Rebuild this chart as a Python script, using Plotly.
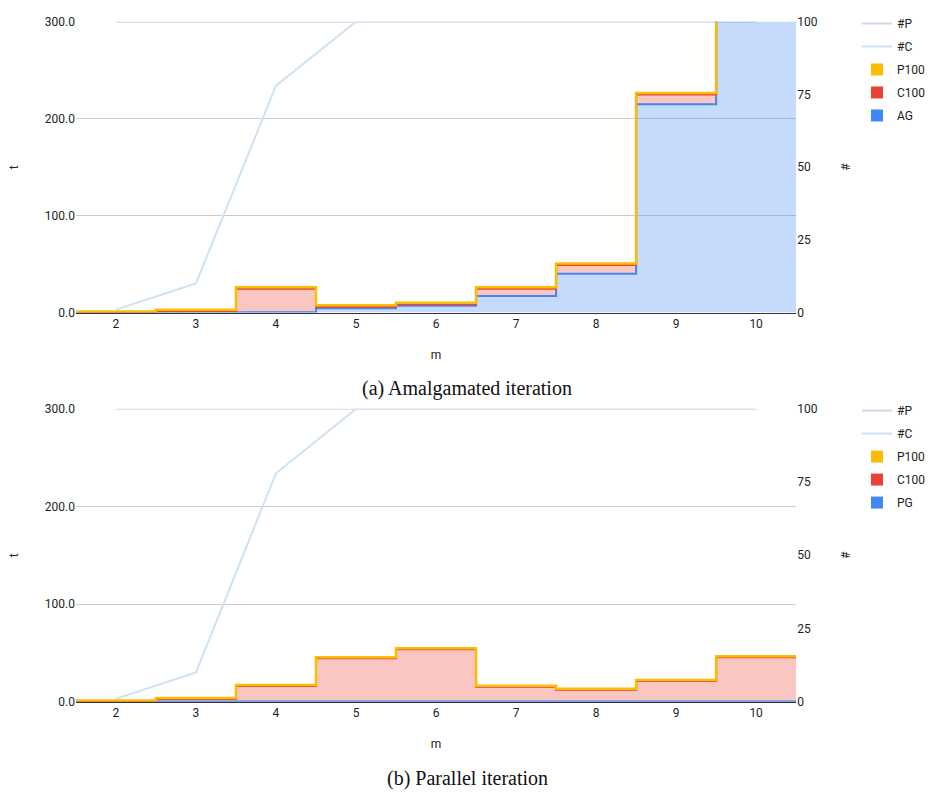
import plotly.graph_objects as go

# ---------------- data ----------------
m = [2, 3, 4, 5, 6, 7, 8, 9, 10]

# (a) Amalgamated iteration
ag_a = [0.1, 0.5, 0.5, 4.5, 7.0, 17.0, 40.0, 215.0, 700.0]
c100_a = [0.3, 1.0, 24.0, 1.5, 1.5, 7.5, 9.0, 10.0, 20.0]
p100_a = [0.8, 1.5, 1.5, 1.5, 1.5, 1.5, 1.5, 1.5, 2.0]
np_a = [100, 100, 100, 100, 100, 100, 100, 100, 100]
nc_a = [1, 10, 78, 100, 100, 100, 100, 100, 100]

# (b) Parallel iteration
pg_b = [0.1, 0.1, 0.1, 0.1, 0.1, 0.1, 0.1, 0.1, 0.1]
c100_b = [0.3, 2.7, 16.0, 44.3, 53.7, 15.1, 12.1, 21.0, 45.3]
p100_b = [0.8, 1.0, 1.0, 1.0, 1.0, 1.0, 1.0, 1.0, 1.0]
np_b = [100, 100, 100, 100, 100, 100, 100, 100, 100]
nc_b = [1, 10, 78, 100, 100, 100, 100, 100, 100]

t_ticks = [0, 100, 200, 300]
n_ticks = [0, 25, 50, 75, 100]

captions = ["(a) Amalgamated iteration", "(b) Parallel iteration"]

# ---------------- styling ----------------
W, H = 931, 801
BLUE, RED, YEL = "#4285f4", "#ea4335", "#fbbc04"
BLUE_F, RED_F, YEL_F = "rgba(66,133,244,0.3)", "rgba(234,67,53,0.3)", "rgba(251,188,4,0.3)"
NP_COL, NC_COL = "#d9d2e9", "#cfe2f3"
FONT = "Roboto"
TXT = "#222222"


def steps(vals):
    xs, ys = [], []
    for mi, v in zip(m, vals):
        xs += [mi - 0.5, mi + 0.5]
        ys += [v, v]
    return xs, ys


def cum(*series):
    out, acc = [], [0.0] * len(m)
    for s in series:
        acc = [a + b for a, b in zip(acc, s)]
        out.append(acc)
    return out


fig = go.Figure()

panels = [
    dict(x="x", yn="y", yt="y2", legend="legend",
         base=ag_a, c=c100_a, p=p100_a, np=np_a, nc=nc_a, basename="AG"),
    dict(x="x2", yn="y3", yt="y4", legend="legend2",
         base=pg_b, c=c100_b, p=p100_b, np=np_b, nc=nc_b, basename="PG"),
]

for pi, pnl in enumerate(panels):
    lg = pnl["legend"]
    # lines on the # axis (drawn beneath the areas)
    fig.add_trace(go.Scatter(x=m, y=pnl["np"], mode="lines", name="#P",
                             line=dict(color=NP_COL, width=2), xaxis=pnl["x"], yaxis=pnl["yn"],
                             legend=lg, legendgroup=f"np{pi}", legendrank=1))
    fig.add_trace(go.Scatter(x=m, y=pnl["nc"], mode="lines", name="#C",
                             line=dict(color=NC_COL, width=2), xaxis=pnl["x"], yaxis=pnl["yn"],
                             legend=lg, legendgroup=f"nc{pi}", legendrank=2))
    # stacked stepped areas on t axis
    s1, s2, s3 = cum(pnl["base"], pnl["c"], pnl["p"])
    for vals, col, fcol, fill in [(s1, BLUE, BLUE_F, "tozeroy"),
                                  (s2, RED, RED_F, "tonexty"),
                                  (s3, YEL, YEL_F, "tonexty")]:
        xs, ys = steps(vals)
        fig.add_trace(go.Scatter(x=xs, y=ys, mode="lines", fill=fill, fillcolor=fcol,
                                 line=dict(color=col, width=2.5 if col == YEL else 2),
                                 xaxis=pnl["x"], yaxis=pnl["yt"], showlegend=False,
                                 hoverinfo="skip"))
    # legend swatches (solid squares)
    for name, col, rk in [("P100", YEL, 3), ("C100", RED, 4), (pnl["basename"], BLUE, 5)]:
        fig.add_trace(go.Bar(x=[None], y=[None], name=name, marker=dict(color=col, line=dict(width=0)),
                             xaxis=pnl["x"], yaxis=pnl["yt"], legend=lg,
                             legendgroup=f"{name}{pi}", legendrank=rk))

x0, x1 = 76 / W, 797 / W
dom_a = [1 - 311 / H, 1 - 15 / H]
dom_b = [1 - 707 / H, 1 - 409 / H]

ax_common = dict(range=[1.5, 10.5], tickvals=m, showgrid=False, zeroline=False,
                 showline=True, linecolor="#333333", linewidth=1, ticks="",
                 tickfont=dict(family=FONT, size=12, color=TXT),
                 title=dict(text="m", font=dict(family=FONT, size=12, color=TXT), standoff=20))
yt_common = dict(range=[0, 300], tickvals=t_ticks, tickformat=".1f", showgrid=True,
                 gridcolor="#cccccc", gridwidth=1, zeroline=False, ticks="",
                 side="left", tickfont=dict(family=FONT, size=12, color=TXT),
                 title=dict(text="t", font=dict(family=FONT, size=12, color=TXT), standoff=23))
yn_common = dict(range=[0, 100], tickvals=n_ticks, showgrid=False, zeroline=False, ticks="",
                 side="right", tickfont=dict(family=FONT, size=12, color=TXT),
                 title=dict(text="#", font=dict(family=FONT, size=12, color=TXT), standoff=24))

fig.update_layout(
    width=W, height=H, margin=dict(l=0, r=0, t=0, b=0),
    paper_bgcolor="white", plot_bgcolor="white", showlegend=True, barmode="overlay",
    xaxis=dict(domain=[x0, x1], anchor="y", **ax_common),
    yaxis=dict(domain=dom_a, anchor="x", **yn_common),
    yaxis2=dict(overlaying="y", anchor="x", **yt_common),
    xaxis2=dict(domain=[x0, x1], anchor="y3", **ax_common),
    yaxis3=dict(domain=dom_b, anchor="x2", **yn_common),
    yaxis4=dict(overlaying="y3", anchor="x2", **yt_common),
    legend=dict(x=858 / W, y=1 - 2 / H, xanchor="left", yanchor="top",
                font=dict(family=FONT, size=12, color=TXT), traceorder="grouped",
                tracegroupgap=4, bgcolor="rgba(0,0,0,0)"),
    legend2=dict(x=858 / W, y=1 - 396 / H, xanchor="left", yanchor="top",
                 font=dict(family=FONT, size=12, color=TXT), traceorder="grouped",
                 tracegroupgap=4, bgcolor="rgba(0,0,0,0)"),
    annotations=[
        dict(text=captions[0], x=468 / W, y=1 - 388 / H, xref="paper", yref="paper",
             showarrow=False, xanchor="center", yanchor="middle",
             font=dict(family="Liberation Serif", size=20, color="#111111")),
        dict(text=captions[1], x=468 / W, y=1 - 785 / H, xref="paper", yref="paper",
             showarrow=False, xanchor="center", yanchor="middle",
             font=dict(family="Liberation Serif", size=20, color="#111111")),
    ],
)

fig.write_html("out.html", config={"displayModeBar": False},
               post_script="document.body.style.margin='0';document.body.style.overflow='hidden';")
